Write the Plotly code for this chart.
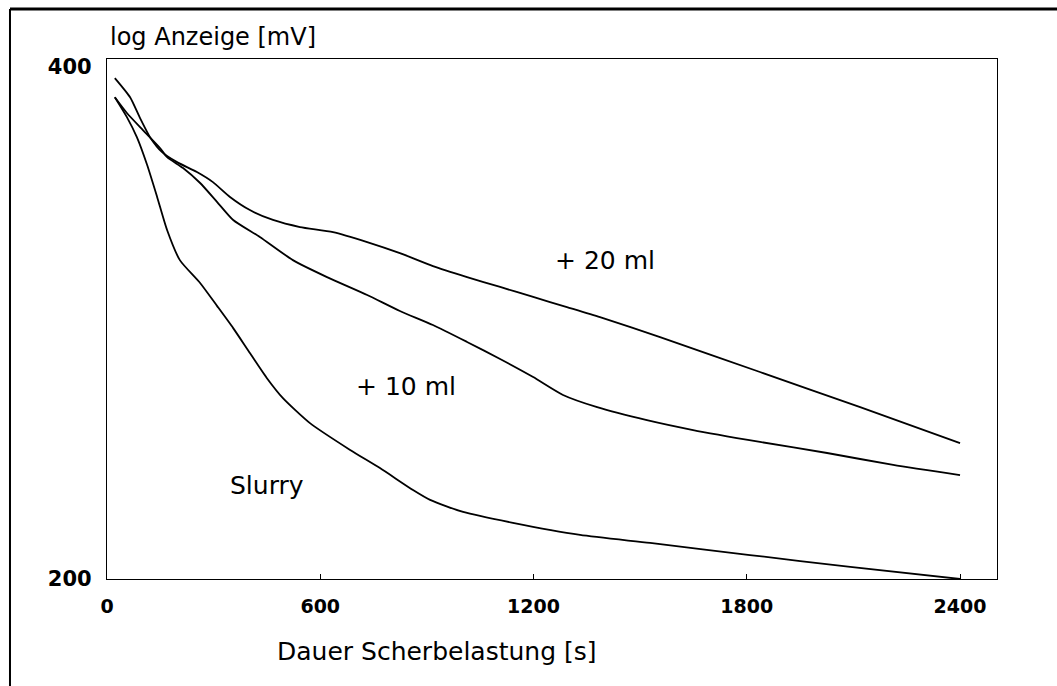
import math
import plotly.graph_objects as go

# Shear duration [s] and log-scale signal [mV] for each sample
x_20ml = [22, 65, 93, 121, 155, 197, 253, 298, 346, 402, 467, 543, 636, 732, 824, 917, 1013,
          1106, 1199, 1294, 1387, 1556, 1837, 2119, 2400]
y_20ml = [394.1, 384.0, 373.3, 363.8, 356.5, 351.7, 347.0, 342.3, 335.5, 329.6, 325.2, 322.1,
          319.9, 315.6, 310.9, 305.5, 301.0, 297.0, 293.0, 289.0, 285.1, 277.5, 264.7, 252.4, 240.4]

x_10ml = [22, 56, 101, 149, 169, 214, 262, 310, 355, 430, 523, 619, 732, 824, 917, 1013, 1106,
          1199, 1283, 1379, 1519, 1649, 1837, 2026, 2212, 2400]
y_10ml = [384.0, 375.9, 367.3, 358.5, 354.1, 348.9, 341.9, 333.2, 325.2, 317.8, 308.0, 301.0,
          293.8, 287.5, 282.1, 275.7, 269.4, 262.9, 256.6, 252.4, 248.0, 244.7, 240.8, 237.2,
          233.4, 230.2]

x_slurry = [22, 56, 84, 113, 141, 169, 205, 262, 310, 355, 402, 450, 495, 571, 684, 768, 861,
            909, 1002, 1142, 1331, 1528, 1809, 2091, 2400]
y_slurry = [384.0, 373.8, 363.8, 350.3, 335.5, 320.8, 308.0, 298.6, 289.4, 280.9, 271.6, 262.5,
            255.5, 247.0, 238.2, 232.4, 225.6, 222.6, 219.0, 215.8, 212.3, 210.0, 206.6, 203.3, 200.0]

x_ticks = [0, 600, 1200, 1800, 2400]
y_ticks = [200, 400]

# Curve labels: text, x, y
curve_labels = [("+ 20 ml", 1401, 308.0), ("+ 10 ml", 841, 259.4), ("Slurry", 450, 227.1)]

FONT = "DejaVu Sans"

fig = go.Figure()
for xs, ys in [(x_20ml, y_20ml), (x_10ml, y_10ml), (x_slurry, y_slurry)]:
    fig.add_trace(go.Scatter(
        x=xs, y=ys, mode="lines",
        line=dict(color="black", width=1.8, shape="spline", smoothing=0.6),
        showlegend=False, hoverinfo="skip",
    ))

# Annotation y positions on a log axis are given as log10 values
for text, lx, ly in curve_labels:
    fig.add_annotation(x=lx, y=math.log10(ly), text=text, showarrow=False,
                       font=dict(family=FONT, size=25, color="black"),
                       xanchor="center", yanchor="middle")

# Axis titles
fig.add_annotation(xref="paper", yref="paper", x=0.001, y=1.042, text="log Anzeige [mV]",
                   showarrow=False, xanchor="left", yanchor="middle",
                   font=dict(family=FONT, size=24, color="black"))
fig.add_annotation(xref="paper", yref="paper", x=0.371, y=-0.140, text="Dauer Scherbelastung [s]",
                   showarrow=False, xanchor="center", yanchor="middle",
                   font=dict(family=FONT, size=25, color="black"))

# Page frame (top and left edges)
fig.add_shape(type="line", xref="paper", yref="paper", x0=-0.109, x1=1.07, y0=1.096, y1=1.096,
              line=dict(color="black", width=3))
fig.add_shape(type="line", xref="paper", yref="paper", x0=-0.109, x1=-0.109, y0=1.096, y1=-0.21,
              line=dict(color="black", width=2))

fig.update_xaxes(
    range=[0, 2504], tickvals=x_ticks, ticktext=[str(v) for v in x_ticks],
    showline=True, linecolor="black", linewidth=1.2, mirror=True,
    ticks="inside", ticklen=5, tickcolor="black", ticklabelstandoff=10,
    showgrid=False, zeroline=False,
    tickfont=dict(family=FONT, size=19, color="black", weight="bold"),
)
fig.update_yaxes(
    type="log", range=[2.30103, 2.60681], tickvals=y_ticks, ticktext=[str(v) for v in y_ticks],
    showline=True, linecolor="black", linewidth=1.2, mirror=True,
    ticks="", ticklabelstandoff=10, showgrid=False, zeroline=False,
    tickfont=dict(family=FONT, size=21, color="black", weight="bold"),
)

fig.update_layout(
    width=1057, height=686,
    margin=dict(l=107, r=60, t=59, b=107),
    paper_bgcolor="white", plot_bgcolor="white",
)

fig.write_html("out.html")
